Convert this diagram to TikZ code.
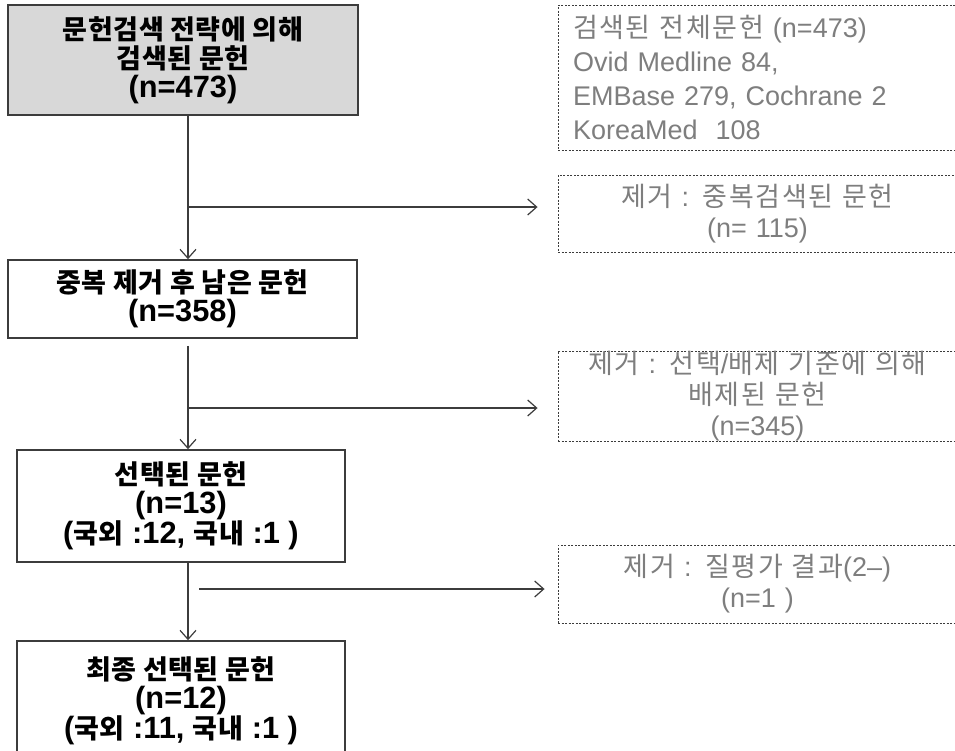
\documentclass[tikz,border=0pt]{standalone}
\usepackage{fontspec}
\setmainfont{Noto Sans CJK KR}
\newfontfamily\hgmain{Noto Sans CJK KR}[LetterSpace=2]
\newfontfamily\hgdrop{Noto Sans CJK KR}[LetterSpace=6]
\newfontfamily\lafont{Liberation Sans}[Scale=1.0]
\newfontfamily\lbfont{Liberation Sans}[Scale=1.14]
\newcommand\la[1]{{\lafont #1}}
\newcommand\lb[1]{{\lbfont\bfseries #1}}
\usetikzlibrary{arrows.meta}

\definecolor{boxline}{HTML}{3C3C3C}
\definecolor{boxfill}{HTML}{D8D8D8}
\definecolor{graytext}{HTML}{7E7E7E}

\tikzset{mainbox/.style={draw=boxline,line width=1.6pt,align=center,inner sep=0pt,
    font=\fontsize{27}{29}\selectfont\hgmain\bfseries,text=black}}
\tikzset{dropbox/.style={draw=boxline,line width=0.9pt,dash pattern=on 2pt off 1.5pt,
    minimum width=399pt,inner xsep=15pt,inner ysep=0pt,text width=369pt,
    font=\fontsize{27}{31}\selectfont\hgdrop,text=graytext}}
\tikzset{flow/.style={draw=boxline,line width=1.2pt,-{Straight Barb[length=9pt,width=16pt]}}}

\begin{document}
\begin{tikzpicture}[x=1pt,y=-1pt]
  \useasboundingbox (0,0) rectangle (955,750);
  \clip (0,0) rectangle (955,750);
  % left column
  \node[mainbox,fill=boxfill,minimum width=350pt,minimum height=110pt] (found) at (183,60)
    {문헌검색 전략에 의해\\검색된 문헌\\\lb{(n=473)}};
  \node[mainbox,minimum width=349pt,minimum height=78pt] (dedup) at (182.5,299)
    {중복 제거 후 남은 문헌\\\lb{(n=358)}};
  \node[mainbox,minimum width=328pt,minimum height=112pt] (chosen) at (181,506)
    {선택된 문헌\\\lb{(n=13)}\\\lb{(}국외\lb{ :12, }국내\lb{ :1 )}};
  \node[mainbox,minimum width=328pt,minimum height=120pt] (final) at (181,701)
    {최종 선택된 문헌\\\lb{(n=12)}\\\lb{(}국외\lb{ :11, }국내\lb{ :1 )}};
  % right column
  \node[dropbox,align=left,minimum height=145pt,font=\fontsize{27}{34}\selectfont\hgdrop] (dbs) at (757.5,77.5)
    {검색된 전체문헌 \la{(n=473)}\\\la{Ovid Medline 84,}\\\la{EMBase 279, Cochrane 2}\\\la{KoreaMed\ \ 108}};
  \node[dropbox,align=center,minimum height=77pt] (dup) at (757.5,213.5)
    {제거\la{ : }중복검색된 문헌\\\la{(n= 115)}};
  \node[dropbox,align=center,minimum height=82pt] (excl) at (757.5,396)
    {제거\la{ : }선택\la{/}배제 기준에 의해\\배제된 문헌\\\la{(n=345)}};
  \node[dropbox,align=center,minimum height=78pt] (qual) at (757.5,584)
    {제거\la{ : }질평가 결과\la{(2–)}\\\la{(n=1 )}};
  % connectors
  \coordinate (spine) at (188,0);
  \coordinate (b1) at (188,207);
  \coordinate (b2) at (188,408);
  \coordinate (b3) at (199,589);
  \draw[flow] (found.south -| spine) -- (dedup.north -| spine);
  \draw[flow,shorten <=7pt] (dedup.south -| spine) -- (chosen.north -| spine);
  \draw[flow] (chosen.south -| spine) -- (final.north -| spine);
  \draw[flow,shorten >=20pt] (b1) -- (b1 -| dup.west);
  \draw[flow,shorten >=20pt] (b2) -- (b2 -| excl.west);
  \draw[flow,shorten >=13pt] (b3) -- (b3 -| qual.west);
\end{tikzpicture}
\end{document}
